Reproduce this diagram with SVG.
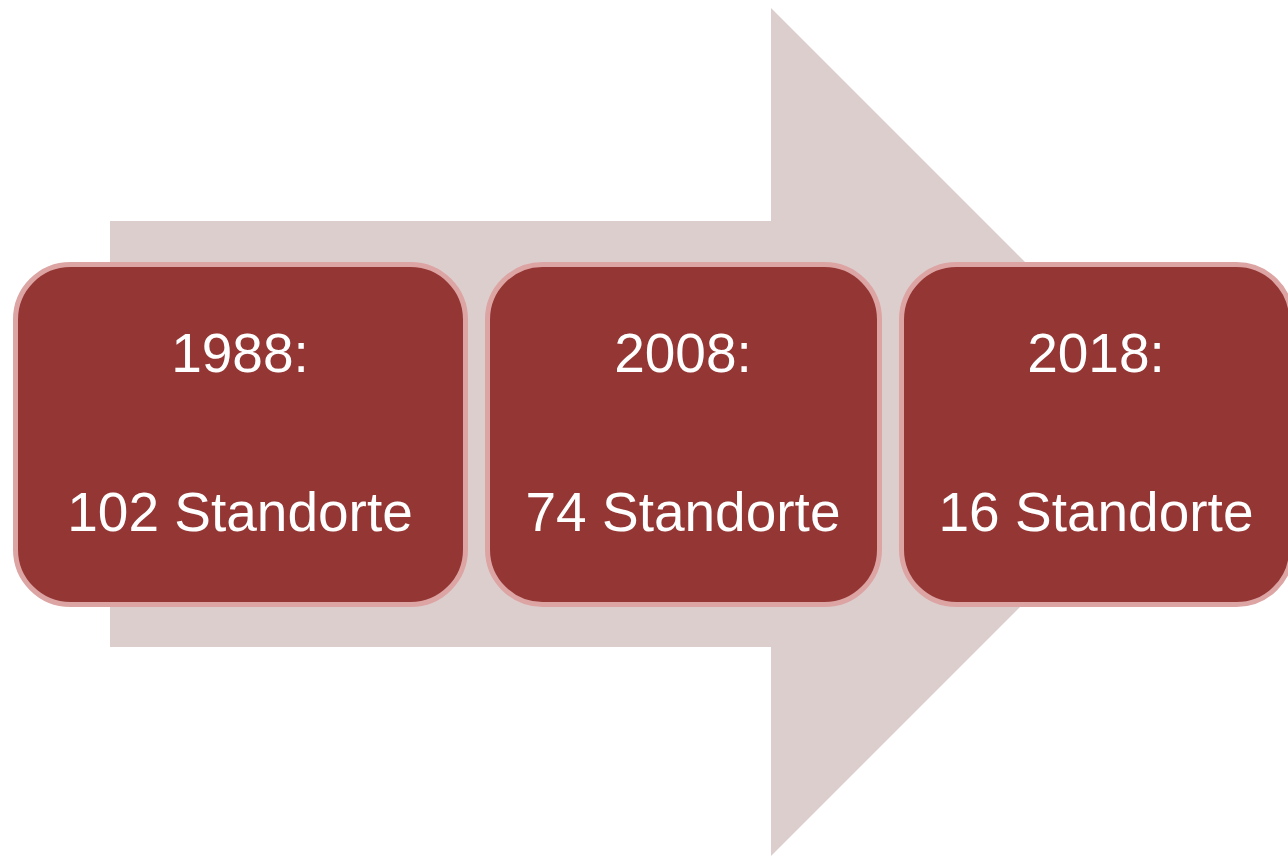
<svg xmlns="http://www.w3.org/2000/svg" width="1288" height="856" viewBox="0 0 1288 856">
<style>
.box{fill:#943634;stroke:#DDA4A4;stroke-width:5}
.t{font-family:"Liberation Sans",Arial,sans-serif;font-size:55px;fill:#FFFFFF;text-anchor:middle}
</style>
<rect width="1288" height="856" fill="#FFFFFF"/>
<g id="arrow">
<polygon points="110,221 771,221 771,8 1195,432 771,856 771,647 110,647" fill="#DDCECE"/>
</g>
<g id="node1">
<rect class="box" x="15.5" y="264.5" width="450" height="340" rx="55"/>
<text class="t" x="240" y="372">1988:</text>
<text class="t" x="240" y="531">102 Standorte</text>
</g>
<g id="node2">
<rect class="box" x="487.5" y="264.5" width="392" height="340" rx="55"/>
<text class="t" x="683" y="372">2008:</text>
<text class="t" x="683" y="531">74 Standorte</text>
</g>
<g id="node3">
<rect class="box" x="901.5" y="264.5" width="390" height="340" rx="55"/>
<text class="t" x="1096" y="372">2018:</text>
<text class="t" x="1096" y="531">16 Standorte</text>
</g>
<g id="connectors"></g>
</svg>
